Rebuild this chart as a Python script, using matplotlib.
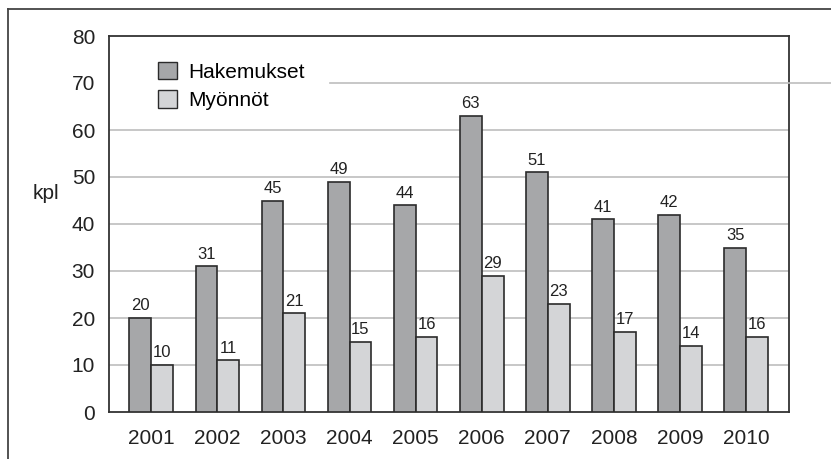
import matplotlib
matplotlib.use("Agg")
import matplotlib.pyplot as plt
import numpy as np
from matplotlib.lines import Line2D
from matplotlib.patches import Patch

years = ["2001", "2002", "2003", "2004", "2005", "2006", "2007", "2008", "2009", "2010"]
hakemukset = [20, 31, 45, 49, 44, 63, 51, 41, 42, 35]
myonnot = [10, 11, 21, 15, 16, 29, 23, 17, 14, 16]

plt.rcParams['font.family'] = ['Liberation Sans Narrow', 'Liberation Sans', 'DejaVu Sans']

dark = "#a6a7a9"
light = "#d4d5d7"
edge = "#2b2b2b"
gridc = "#bdbdbd"

fig = plt.figure(figsize=(8.31, 4.59), dpi=100)
ax = fig.add_axes([109 / 831, 1 - 412 / 459, 680 / 831, 376 / 459])

x = np.arange(len(years))
w = 0.33
b1 = ax.bar(x - w / 2, hakemukset, w, color=dark, edgecolor=edge, linewidth=1.2, zorder=3)
b2 = ax.bar(x + w / 2, myonnot, w, color=light, edgecolor=edge, linewidth=1.2, zorder=3)

for rect, v in zip(b1, hakemukset):
    ax.text(rect.get_x() + rect.get_width() / 2, v + 1, str(v), ha="center", va="bottom", fontsize=12, color="#222")
for rect, v in zip(b2, myonnot):
    ax.text(rect.get_x() + rect.get_width() / 2, v + 1, str(v), ha="center", va="bottom", fontsize=12, color="#222")

ax.set_xlim(-0.64, len(years) - 0.35)
ax.set_ylim(0, 80)
ax.set_yticks(range(0, 81, 10))
ax.set_xticks(x)
ax.set_xticklabels(years)
ax.tick_params(axis="y", length=0, labelsize=15, colors="#222", pad=10)
ax.tick_params(axis="x", length=0, labelsize=15, colors="#222", pad=12)

# grid lines; the one at 70 is hidden behind the legend and runs past the plot edge
for yv in range(10, 80, 10):
    if yv != 70:
        ax.axhline(yv, color=gridc, linewidth=1.2, zorder=0)
y70 = 1 - (412 - 7 * 47) / 459
fig.add_artist(Line2D([330 / 831, 1.0], [y70, y70], color=gridc, linewidth=1.2, zorder=0.5))

for s in ax.spines.values():
    s.set_color("#333")
    s.set_linewidth(1.3)

ax.set_ylabel("kpl", rotation=0, fontsize=15, color="#222", va="center")
ax.yaxis.set_label_coords(-0.093, 0.582)

handles = [Patch(facecolor=dark, edgecolor=edge, label="Hakemukset"),
           Patch(facecolor=light, edgecolor=edge, label="Myönnöt")]
leg = ax.legend(handles=handles, loc="upper left", bbox_to_anchor=(0.048, 0.975),
                frameon=False, fontsize=15, handlelength=0.9, handleheight=0.9,
                handletextpad=0.55, labelspacing=0.4, borderpad=0.3)

# outer frame (top and left only)
fig.add_artist(Line2D([8 / 831, 1.0], [1 - 9 / 459, 1 - 9 / 459], color="#444", linewidth=1.3))
fig.add_artist(Line2D([8 / 831, 8 / 831], [0, 1 - 9 / 459], color="#444", linewidth=1.3))

fig.savefig("out.png", dpi=100)
